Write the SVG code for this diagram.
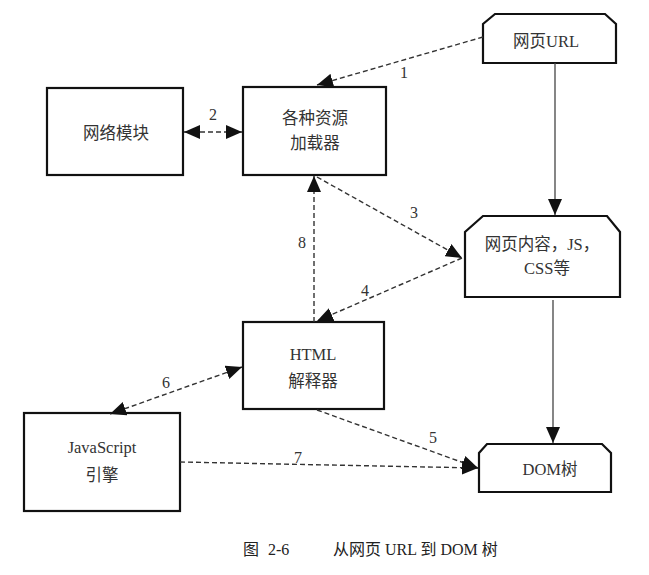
<svg xmlns="http://www.w3.org/2000/svg" width="649" height="575" viewBox="0 0 649 575">
<style>
.box{fill:#fff;stroke:#111;stroke-width:2.2}
.t{font-family:"Liberation Serif","Noto Sans CJK SC",serif;font-size:16.5px;fill:#333;text-anchor:middle}
.lbl{font-family:"Liberation Serif",serif;font-size:16px;fill:#333;text-anchor:middle}
.d{fill:none;stroke:#333;stroke-width:1.4;stroke-dasharray:5,3}
.s{fill:none;stroke:#444;stroke-width:1.3}
.cap{font-family:"Liberation Serif","Noto Sans CJK SC",serif;font-size:16px;fill:#222}
</style>
<defs>
<marker id="ah" markerUnits="userSpaceOnUse" markerWidth="16" markerHeight="14" refX="16" refY="7" orient="auto-start-reverse">
<path d="M0,0 L16,7 L0,14 Z" fill="#111"/>
</marker>
</defs>
<rect width="649" height="575" fill="#fff"/>
<g id="url"><path class="box" d="M483,63 L483,24 L495,14 L605,14 L616,24 L616,63 Z"/><text class="t" x="546" y="47">网页URL</text></g>
<g id="net"><rect class="box" x="47" y="88" width="136" height="87"/><text class="t" x="116" y="139">网络模块</text></g>
<g id="loader"><rect class="box" x="243" y="87" width="143" height="88"/><text class="t" x="315" y="124">各种资源</text><text class="t" x="315" y="149">加载器</text></g>
<g id="content"><path class="box" d="M465,297 L465,232 L483,216 L607,216 L620,232 L620,297 Z"/><text class="t" x="542" y="250">网页内容，JS，</text><text class="t" x="547" y="274">CSS等</text></g>
<g id="html"><rect class="box" x="243" y="322" width="141" height="87"/><text class="t" x="313" y="360">HTML</text><text class="t" x="313" y="387">解释器</text></g>
<g id="js"><rect class="box" x="24" y="413" width="156" height="98"/><text class="t" x="102" y="453">JavaScript</text><text class="t" x="102" y="481">引擎</text></g>
<g id="dom"><path class="box" d="M479,492 L479,453 L487,444 L602,444 L611,453 L611,492 Z"/><text class="t" x="550" y="475">DOM树</text></g>
<g id="connectors">
<path class="d" d="M483,37 L317,85" marker-end="url(#ah)"/>
<path class="d" d="M184,132 L242,132" marker-start="url(#ah)" marker-end="url(#ah)"/>
<path class="d" d="M317,177 L462,258" marker-end="url(#ah)"/>
<path class="d" d="M462,258 L317,321" marker-end="url(#ah)"/>
<path class="d" d="M314,322 L314,176" marker-end="url(#ah)"/>
<path class="d" d="M242,367 L110,414" marker-start="url(#ah)" marker-end="url(#ah)"/>
<path class="d" d="M317,410 L478,468" marker-end="url(#ah)"/>
<path class="d" d="M180,462 L478,468" marker-end="url(#ah)"/>
<path class="s" d="M555,63 L555,215" marker-end="url(#ah)"/>
<path class="s" d="M553,300 L553,443" marker-end="url(#ah)"/>
<text class="lbl" x="404" y="78">1</text>
<text class="lbl" x="213" y="120">2</text>
<text class="lbl" x="414" y="218">3</text>
<text class="lbl" x="365" y="296">4</text>
<text class="lbl" x="302" y="248">8</text>
<text class="lbl" x="166" y="388">6</text>
<text class="lbl" x="433" y="443">5</text>
<text class="lbl" x="298" y="463">7</text>
</g>
<text class="cap" x="243" y="555">图</text>
<text class="cap" x="268" y="555" font-size="17">2-6</text>
<text class="cap" x="333" y="555">从网页 URL 到 DOM 树</text>
</svg>
